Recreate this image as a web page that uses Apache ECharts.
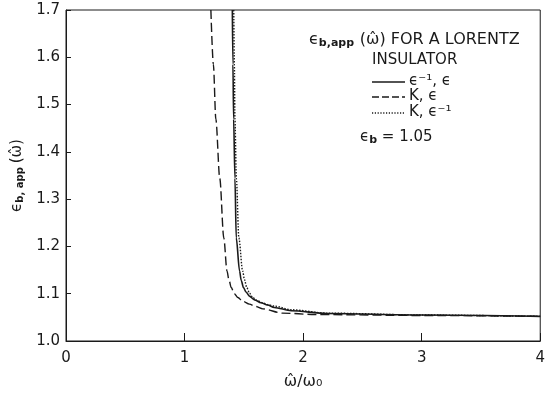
<!DOCTYPE html>
<html>
<head>
<meta charset="utf-8">
<script src="https://cdn.jsdelivr.net/npm/echarts@6/dist/echarts.min.js"></script>
<style>
  html, body { margin: 0; padding: 0; background: #fff; }
  #chart { width: 548px; height: 395px; }
</style>
</head>
<body>
<div id="chart"></div>
<script>
// curves, [omega/omega0, eps_b,app]
const solidCurve = [
  [1.403, 1.70], [1.408, 1.585], [1.414, 1.469], [1.425, 1.344], [1.436, 1.218], [1.464, 1.148],
  [1.478, 1.128], [1.497, 1.113], [1.52, 1.103], [1.547, 1.095], [1.59, 1.087], [1.644, 1.081],
  [1.70, 1.076], [1.756, 1.071], [1.9, 1.064], [2.2, 1.058], [3, 1.055], [4, 1.052]
]
const dashedCurve = [
  [1.222, 1.70], [1.243, 1.585], [1.264, 1.469], [1.297, 1.344], [1.331, 1.218], [1.358, 1.148],
  [1.374, 1.13], [1.394, 1.113], [1.42, 1.10], [1.45, 1.092], [1.49, 1.084], [1.547, 1.078],
  [1.60, 1.073], [1.66, 1.068], [1.825, 1.059], [2.1, 1.056], [3, 1.054], [4, 1.052]
]
const dottedCurve = [
  [1.415, 1.70], [1.42, 1.585], [1.425, 1.469], [1.437, 1.344], [1.458, 1.218], [1.49, 1.148],
  [1.505, 1.13], [1.525, 1.113], [1.548, 1.101], [1.575, 1.092], [1.61, 1.086], [1.658, 1.081],
  [1.70, 1.077], [1.756, 1.074], [1.9, 1.066], [2.2, 1.059], [3, 1.055], [4, 1.052]
]
const seriesNames = ['ϵ⁻¹, ϵ', 'K, ϵ', 'K, ϵ⁻¹']
const xTicks = [0, 1, 2, 3, 4]
const yTicks = [1.0, 1.1, 1.2, 1.3, 1.4, 1.5, 1.6, 1.7]

const ink = '#1a1a1a'
const font = 'DejaVu Sans'

let myChart = echarts.init(document.getElementById('chart'), null, { renderer: 'canvas' })

function lineSeries (name, data, type, width) {
  return {
    name: name,
    type: 'line',
    data: data,
    showSymbol: false,
    symbol: 'none',
    smooth: 0.3,
    smoothMonotone: 'x',
    lineStyle: { color: ink, width: width, type: type },
    itemStyle: { color: ink }
  }
}

// legend drawn by hand: line sample + label
const dashes = ['solid', [7, 3], [1.2, 1.6]]
const legendRows = [82, 97, 113]
let legendGraphics = []
seriesNames.forEach((name, i) => {
  legendGraphics.push({
    type: 'line',
    shape: { x1: 372, y1: legendRows[i], x2: 405, y2: legendRows[i] },
    style: { stroke: ink, lineWidth: 1.3, lineDash: dashes[i] === 'solid' ? null : dashes[i] }
  })
  legendGraphics.push({
    type: 'text', x: 409, y: legendRows[i] - 1,
    style: { text: name, font: '15px "DejaVu Sans"', fill: ink, verticalAlign: 'middle' }
  })
})

let option = {
  backgroundColor: '#fff',
  animation: false,
  textStyle: { fontFamily: font, color: ink },
  grid: {
    left: 66, right: 3, top: 10, bottom: 51,
    show: true, borderColor: ink, borderWidth: 1, backgroundColor: 'transparent'
  },
  title: {
    text: '{e|ϵ}{sub|b,app} {e|(ω̂) FOR A LORENTZ}',
    left: 304, top: 26,
    textStyle: {
      fontWeight: 'normal',
      rich: {
        e: { fontFamily: font, fontSize: 16, fontWeight: 'normal', color: ink },
        sub: { fontFamily: font, fontSize: 11, fontWeight: 'bold', color: ink, padding: [7, 0, 0, 0] }
      }
    }
  },
  graphic: [
    { type: 'text', x: 372, y: 60, style: { text: 'INSULATOR', font: '15px "DejaVu Sans"', fill: ink, verticalAlign: 'middle' } },
    {
      type: 'text', x: 360, y: 128,
      style: {
        text: '{e|ϵ}{sub|b}{e| = 1.05}',
        rich: {
          e: { fontFamily: font, fontSize: 15, fill: ink },
          sub: { fontFamily: font, fontSize: 11, fontWeight: 'bold', fill: ink, padding: [7, 0, 0, 0] }
        }
      }
    }
  ].concat(legendGraphics),
  xAxis: {
    type: 'value',
    min: 0, max: 4, interval: 1,
    name: 'ω̂/ω₀',
    nameLocation: 'middle',
    nameGap: 33,
    nameTextStyle: { fontFamily: font, fontSize: 16, color: ink },
    axisLine: { show: true, lineStyle: { color: ink, width: 1 } },
    axisTick: { show: true, inside: true, length: 8, lineStyle: { color: ink } },
    axisLabel: { fontFamily: font, fontSize: 15, color: ink, margin: 10 },
    splitLine: { show: false }
  },
  yAxis: {
    type: 'value',
    min: 1.0, max: 1.7, interval: 0.1,
    name: '{e|ϵ}{sub|b, app} {e|(ω̂)}',
    nameLocation: 'middle',
    nameGap: 34,
    nameTextStyle: {
      rich: {
        e: { fontFamily: font, fontSize: 15, color: ink },
        sub: { fontFamily: font, fontSize: 10, fontWeight: 'bold', color: ink, padding: [7, 0, 0, 0] }
      }
    },
    axisLine: { show: true, lineStyle: { color: ink, width: 1 } },
    axisTick: { show: true, inside: true, length: 5, lineStyle: { color: ink } },
    axisLabel: {
      fontFamily: font, fontSize: 15, color: ink, margin: 6,
      formatter: v => v.toFixed(1)
    },
    splitLine: { show: false }
  },
  series: [
    lineSeries(seriesNames[0], solidCurve, 'solid', 1.6),
    lineSeries(seriesNames[1], dashedCurve, [9, 4], 1.4),
    lineSeries(seriesNames[2], dottedCurve, [1.5, 1.5], 1.4)
  ]
}

myChart.setOption(option)
</script>
</body>
</html>
